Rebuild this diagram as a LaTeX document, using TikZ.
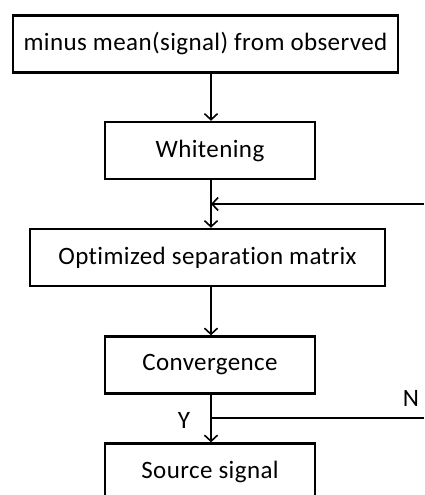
\documentclass[tikz,border=0pt]{standalone}
\usepackage{fontspec}
\setmainfont[Ligatures=NoCommon,LetterSpace=1.6]{Carlito}
\usetikzlibrary{arrows.meta}
\begin{document}
\begin{tikzpicture}[x=1pt,y=-1pt,
  box/.style={draw=black,line width=2.4pt,fill=white,minimum width=#1,minimum height=57pt,inner sep=0pt,font=\fontsize{25pt}{29pt}\selectfont,text=black},
  conn/.style={line width=1.6pt,draw=black},
  arr/.style={conn,-{Straight Barb[length=6pt,width=13pt,line width=1.6pt]}},
  lbl/.style={font=\fontsize{25pt}{29pt}\selectfont,text=black,inner sep=0pt}]
\useasboundingbox (0,0) rectangle (424,495);
\begin{scope}
\clip (0,0) rectangle (424,495);
\node[box=385pt] (b1) at (205.5,44) {minus mean(signal) from observed};
\node[box=210pt] (b2) at (210,150.5) {Whitening};
\node[box=355pt] (b3) at (207.5,257.5) {Optimized separation matrix};
\node[box=210pt] (b4) at (210,365) {Convergence};
\node[box=210pt] (b5) at (210,472) {Source signal};
\coordinate (ax) at (211,0);
\coordinate (m) at (211,204);
\coordinate (fbin) at (424,204);
\coordinate (j) at (211,418);
\coordinate (nout) at (424,418);
\draw[arr] (b1.south -| ax) -- (b2.north -| ax);
\draw[conn] (b2.south -| ax) -- (m);
\draw[arr] (m) -- (b3.north -| ax);
\draw[arr] (fbin) -- (m);
\draw[arr] (b3.south -| ax) -- (b4.north -| ax);
\draw[conn] (b4.south -| ax) -- (j);
\draw[arr] (j) -- (b5.north -| ax);
\draw[conn] (j) -- (nout);
\node[lbl] (y) at (184,420) {Y};
\node[lbl] (n) at (411,398) {N};
\end{scope}
\end{tikzpicture}
\end{document}
